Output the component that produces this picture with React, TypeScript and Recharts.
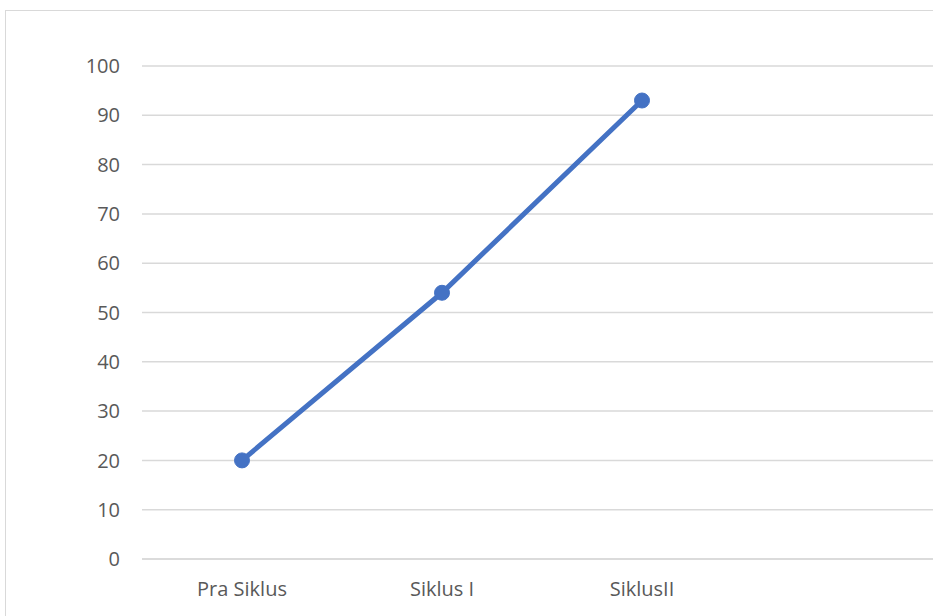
import React from "react";
import { LineChart, Line, XAxis, YAxis, CartesianGrid } from "recharts";

const categories = ["Pra Siklus", "Siklus I", "SiklusII", ""];
const values: (number | null)[] = [20, 54, 93, null];
const yTicks = [0, 10, 20, 30, 40, 50, 60, 70, 80, 90, 100];

const data = categories.map((c, i) => ({ name: c, value: values[i] }));

const FONT = "'Open Sans', Lato, 'Liberation Sans', sans-serif";

export default function App() {
  return (
    <div
      style={{
        position: "absolute",
        left: 0,
        top: 0,
        width: 933,
        height: 616,
        overflow: "hidden",
        background: "#fff",
      }}
    >
      <div
        style={{
          position: "absolute",
          left: 5,
          top: 10,
          width: 1000,
          height: 700,
          border: "1.5px solid #d9d9d9",
          boxSizing: "border-box",
        }}
      />
      <div style={{ position: "absolute", left: 0, top: 0 }}>
        <LineChart
          width={960}
          height={640}
          data={data}
          margin={{ top: 66, right: 18, bottom: 41, left: 0 }}
        >
          <CartesianGrid vertical={false} stroke="#d9d9d9" strokeWidth={1.5} />
          <XAxis
            dataKey="name"
            padding={{ left: 100, right: 100 }}
            axisLine={{ stroke: "#d9d9d9", strokeWidth: 1.5 }}
            tickLine={false}
            tickSize={0}
            tickMargin={23}
            height={40}
            interval={0}
            tick={{ fill: "#595959", fontSize: 20, fontFamily: FONT }}
          />
          <YAxis
            domain={[0, 100]}
            ticks={yTicks}
            width={142}
            axisLine={false}
            tickLine={false}
            tickSize={0}
            tickMargin={22}
            interval={0}
            tick={{ fill: "#595959", fontSize: 20, fontFamily: FONT }}
          />
          <Line
            type="linear"
            dataKey="value"
            stroke="#4472C4"
            strokeWidth={5}
            dot={{ r: 7.5, fill: "#4472C4", stroke: "#4472C4", strokeWidth: 1 }}
            isAnimationActive={false}
            connectNulls={false}
          />
        </LineChart>
      </div>
    </div>
  );
}
